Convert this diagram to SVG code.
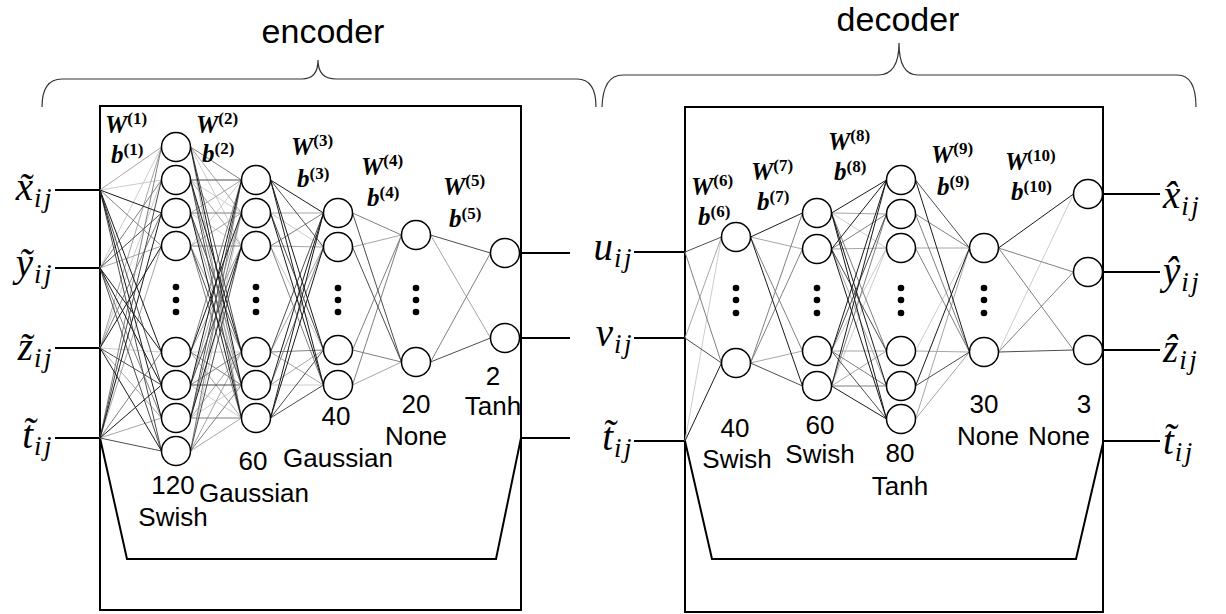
<svg xmlns="http://www.w3.org/2000/svg" width="1226" height="614" viewBox="0 0 1226 614">
<style>
.box{fill:none;stroke:#000;stroke-width:2}
.br{fill:none;stroke:#333;stroke-width:1.2}
.n circle{fill:#fff;stroke:#000;stroke-width:1.5}
.dot{fill:#000}
.io{fill:none;stroke:#000;stroke-width:1.8}
.c1{fill:none;stroke:#1a1a1a;stroke-width:1}
.c2{fill:none;stroke:#4d4d4d;stroke-width:1}
.c3{fill:none;stroke:#808080;stroke-width:1}
.c4{fill:none;stroke:#a6a6a6;stroke-width:1}
.c5{fill:none;stroke:#cccccc;stroke-width:1}
.lab{font-family:"Liberation Sans",Arial,sans-serif;font-size:26px;text-anchor:middle;fill:#000}
.ttl{font-family:"Liberation Sans",Arial,sans-serif;font-size:34px;text-anchor:middle;fill:#000}
.m{font-family:"Liberation Serif","Times New Roman",serif;font-style:italic;font-size:39px;fill:#000}
.m.e{text-anchor:end}
.sub{font-size:27px;letter-spacing:2.5px}
.w{font-family:"Liberation Serif","Times New Roman",serif;font-style:italic;font-weight:bold;font-size:25px;fill:#000}
.sup{font-size:17px;font-style:normal}
</style>

<!-- braces and titles -->
<g id="encoder-brace">
<path class="br" d="M42 107 Q42 79 62 79 L302 79 Q318 79 318 60 Q318 79 336 79 L577 79 Q596 79 596 107"/>
<text class="ttl" x="323" y="43">encoder</text>
</g>
<g id="decoder-brace">
<path class="br" d="M602 107 Q603 75 623 75 L878 75 Q899 75 899 43 Q899 75 918 75 L1177 75 Q1196 75 1196 107"/>
<text class="ttl" x="898" y="31">decoder</text>
</g>

<!-- frames -->
<g id="encoder-frame">
<rect class="box" x="100" y="106" width="421" height="504"/>
<polyline class="box" points="100,438 127,559 496,559 521,438"/>
</g>
<g id="decoder-frame">
<rect class="box" x="685" y="107" width="418" height="505"/>
<polyline class="box" points="685,441 712,559 1076,559 1103,443"/>
</g>

<!-- connectors -->
<g id="connectors">
<path class="io" d="M55 190H100 M55 268H100 M55 348H100 M55 438H100 M520 253H570 M520 338H570 M520 438H570 M634 252H685 M634 338H685 M634 441H685 M1103 194H1160 M1103 272H1160 M1103 350H1160 M1103 441H1160"/>
<!-- inputs to layer 1 -->
<path class="c5" d="M100 190L161.5 180 M100 268L161.5 147 M100 348L161.5 180 M100 348L161.5 352"/>
<path class="c4" d="M100 190L161.5 147 M100 268L161.5 246 M100 348L161.5 147 M100 348L161.5 418 M100 438L161.5 246 M100 438L161.5 418"/>
<path class="c3" d="M100 190L161.5 246 M100 268L161.5 180 M100 268L161.5 418 M100 348L161.5 213 M100 438L161.5 147 M100 438L161.5 352"/>
<path class="c2" d="M100 190L161.5 385 M100 190L161.5 451 M100 268L161.5 213 M100 268L161.5 451 M100 348L161.5 385 M100 438L161.5 180 M100 438L161.5 451"/>
<path class="c1" d="M100 190L161.5 213 M100 190L161.5 352 M100 190L161.5 418 M100 268L161.5 352 M100 268L161.5 385 M100 348L161.5 246 M100 348L161.5 451 M100 438L161.5 213 M100 438L161.5 385"/>
<!-- layer 1 to layer 2 -->
<path class="c5" d="M190.5 147L241.5 246 M190.5 180L241.5 213 M190.5 213L241.5 246 M190.5 246L241.5 180 M190.5 352L241.5 352 M190.5 385L241.5 418 M190.5 418L241.5 385 M190.5 451L241.5 213"/>
<path class="c4" d="M190.5 147L241.5 213 M190.5 147L241.5 418 M190.5 180L241.5 246 M190.5 213L241.5 180 M190.5 213L241.5 385 M190.5 246L241.5 213 M190.5 246L241.5 352 M190.5 352L241.5 246 M190.5 352L241.5 418 M190.5 385L241.5 213 M190.5 418L241.5 352 M190.5 451L241.5 352 M190.5 451L241.5 418"/>
<path class="c3" d="M190.5 147L241.5 180 M190.5 180L241.5 385 M190.5 213L241.5 213 M190.5 246L241.5 246 M190.5 246L241.5 418 M190.5 352L241.5 180 M190.5 352L241.5 385 M190.5 385L241.5 352 M190.5 418L241.5 213 M190.5 418L241.5 418 M190.5 451L241.5 180 M190.5 451L241.5 385"/>
<path class="c2" d="M190.5 147L241.5 352 M190.5 180L241.5 180 M190.5 180L241.5 418 M190.5 213L241.5 352 M190.5 246L241.5 385 M190.5 385L241.5 246 M190.5 385L241.5 385 M190.5 418L241.5 180 M190.5 451L241.5 246"/>
<path class="c1" d="M190.5 147L241.5 385 M190.5 180L241.5 352 M190.5 213L241.5 418 M190.5 352L241.5 213 M190.5 385L241.5 180 M190.5 418L241.5 246"/>
<!-- layer 2 to layer 3 -->
<path class="c5" d="M270.5 213L323.5 247 M270.5 246L323.5 350 M270.5 385L323.5 385"/>
<path class="c4" d="M270.5 213L323.5 213 M270.5 246L323.5 247 M270.5 352L323.5 247 M270.5 352L323.5 385 M270.5 385L323.5 350"/>
<path class="c3" d="M270.5 246L323.5 213 M270.5 246L323.5 385 M270.5 352L323.5 350 M270.5 385L323.5 247"/>
<path class="c2" d="M270.5 180L323.5 247 M270.5 213L323.5 350 M270.5 352L323.5 213 M270.5 418L323.5 350 M270.5 418L323.5 385"/>
<path class="c1" d="M270.5 180L323.5 213 M270.5 180L323.5 350 M270.5 180L323.5 385 M270.5 213L323.5 385 M270.5 385L323.5 213 M270.5 418L323.5 213 M270.5 418L323.5 247"/>
<!-- layer 3 to layer 4 -->
<path class="c4" d="M352.5 247L401.5 235 M352.5 385L401.5 362"/>
<path class="c3" d="M352.5 213L401.5 235 M352.5 350L401.5 235 M352.5 350L401.5 362 M352.5 385L401.5 235"/>
<path class="c2" d="M352.5 213L401.5 362 M352.5 247L401.5 362"/>
<!-- layer 4 to layer 5 -->
<path class="c4" d="M430.5 235L490.5 338"/>
<path class="c3" d="M430.5 362L490.5 253"/>
<path class="c2" d="M430.5 235L490.5 253 M430.5 362L490.5 338"/>
<!-- decoder inputs to layer 6 -->
<path class="c5" d="M685 441L721.5 237"/>
<path class="c4" d="M685 338L721.5 237"/>
<path class="c3" d="M685 252L721.5 363"/>
<path class="c2" d="M685 252L721.5 237 M685 338L721.5 363"/>
<path class="c1" d="M685 441L721.5 363"/>
<!-- layer 6 to layer 7 -->
<path class="c4" d="M750.5 237L802.5 249 M750.5 363L802.5 351"/>
<path class="c3" d="M750.5 237L802.5 351 M750.5 363L802.5 213 M750.5 363L802.5 249"/>
<path class="c2" d="M750.5 363L802.5 386"/>
<path class="c1" d="M750.5 237L802.5 213 M750.5 237L802.5 386"/>
<!-- layer 7 to layer 8 -->
<path class="c5" d="M831.5 213L886.5 248 M831.5 351L886.5 248 M831.5 386L886.5 248"/>
<path class="c4" d="M831.5 213L886.5 214 M831.5 249L886.5 248 M831.5 249L886.5 386 M831.5 351L886.5 351 M831.5 386L886.5 351"/>
<path class="c3" d="M831.5 213L886.5 351 M831.5 249L886.5 214 M831.5 351L886.5 386 M831.5 386L886.5 214 M831.5 386L886.5 386"/>
<path class="c2" d="M831.5 249L886.5 351 M831.5 351L886.5 214 M831.5 351L886.5 419"/>
<path class="c1" d="M831.5 213L886.5 180 M831.5 213L886.5 386 M831.5 213L886.5 419 M831.5 249L886.5 180 M831.5 249L886.5 419 M831.5 351L886.5 180 M831.5 386L886.5 180 M831.5 386L886.5 419"/>
<!-- layer 8 to layer 9 -->
<path class="c5" d="M915.5 351L969.5 248"/>
<path class="c4" d="M915.5 248L969.5 248 M915.5 351L969.5 352 M915.5 419L969.5 248 M915.5 419L969.5 352"/>
<path class="c3" d="M915.5 214L969.5 248 M915.5 214L969.5 352 M915.5 248L969.5 352"/>
<path class="c2" d="M915.5 180L969.5 248 M915.5 386L969.5 352"/>
<path class="c1" d="M915.5 180L969.5 352 M915.5 386L969.5 248"/>
<!-- layer 9 to layer 10 -->
<path class="c5" d="M998.5 352L1073.5 194"/>
<path class="c3" d="M998.5 248L1073.5 272 M998.5 248L1073.5 350 M998.5 352L1073.5 272"/>
<path class="c2" d="M998.5 352L1073.5 350"/>
<path class="c1" d="M998.5 248L1073.5 194"/>
</g>

<!-- encoder layer 1 (120, Swish) -->
<g id="e1n1" class="n"><circle cx="176" cy="147" r="14.5"/></g>
<g id="e1n2" class="n"><circle cx="176" cy="180" r="14.5"/></g>
<g id="e1n3" class="n"><circle cx="176" cy="213" r="14.5"/></g>
<g id="e1n4" class="n"><circle cx="176" cy="246" r="14.5"/></g>
<g id="e1n5" class="n"><circle cx="176" cy="352" r="14.5"/></g>
<g id="e1n6" class="n"><circle cx="176" cy="385" r="14.5"/></g>
<g id="e1n7" class="n"><circle cx="176" cy="418" r="14.5"/></g>
<g id="e1n8" class="n"><circle cx="176" cy="451" r="14.5"/></g>
<!-- encoder layer 2 (60) -->
<g id="e2n1" class="n"><circle cx="256" cy="180" r="14.5"/></g>
<g id="e2n2" class="n"><circle cx="256" cy="213" r="14.5"/></g>
<g id="e2n3" class="n"><circle cx="256" cy="246" r="14.5"/></g>
<g id="e2n4" class="n"><circle cx="256" cy="352" r="14.5"/></g>
<g id="e2n5" class="n"><circle cx="256" cy="385" r="14.5"/></g>
<g id="e2n6" class="n"><circle cx="256" cy="418" r="14.5"/></g>
<!-- encoder layer 3 (40) -->
<g id="e3n1" class="n"><circle cx="338" cy="213" r="14.5"/></g>
<g id="e3n2" class="n"><circle cx="338" cy="247" r="14.5"/></g>
<g id="e3n3" class="n"><circle cx="338" cy="350" r="14.5"/></g>
<g id="e3n4" class="n"><circle cx="338" cy="385" r="14.5"/></g>
<!-- encoder layer 4 (20) -->
<g id="e4n1" class="n"><circle cx="416" cy="235" r="14.5"/></g>
<g id="e4n2" class="n"><circle cx="416" cy="362" r="14.5"/></g>
<!-- encoder layer 5 (2) -->
<g id="e5n1" class="n"><circle cx="505" cy="253" r="14.5"/></g>
<g id="e5n2" class="n"><circle cx="505" cy="338" r="14.5"/></g>
<!-- decoder layer 6 (40) -->
<g id="d6n1" class="n"><circle cx="736" cy="237" r="14.5"/></g>
<g id="d6n2" class="n"><circle cx="736" cy="363" r="14.5"/></g>
<!-- decoder layer 7 (60) -->
<g id="d7n1" class="n"><circle cx="817" cy="213" r="14.5"/></g>
<g id="d7n2" class="n"><circle cx="817" cy="249" r="14.5"/></g>
<g id="d7n3" class="n"><circle cx="817" cy="351" r="14.5"/></g>
<g id="d7n4" class="n"><circle cx="817" cy="386" r="14.5"/></g>
<!-- decoder layer 8 (80) -->
<g id="d8n1" class="n"><circle cx="901" cy="180" r="14.5"/></g>
<g id="d8n2" class="n"><circle cx="901" cy="214" r="14.5"/></g>
<g id="d8n3" class="n"><circle cx="901" cy="248" r="14.5"/></g>
<g id="d8n4" class="n"><circle cx="901" cy="351" r="14.5"/></g>
<g id="d8n5" class="n"><circle cx="901" cy="386" r="14.5"/></g>
<g id="d8n6" class="n"><circle cx="901" cy="419" r="14.5"/></g>
<!-- decoder layer 9 (30) -->
<g id="d9n1" class="n"><circle cx="984" cy="248" r="14.5"/></g>
<g id="d9n2" class="n"><circle cx="984" cy="352" r="14.5"/></g>
<!-- decoder layer 10 (3) -->
<g id="d10n1" class="n"><circle cx="1088" cy="194" r="14.5"/></g>
<g id="d10n2" class="n"><circle cx="1088" cy="272" r="14.5"/></g>
<g id="d10n3" class="n"><circle cx="1088" cy="350" r="14.5"/></g>

<!-- ellipsis dots -->
<g id="ellipses">
<circle class="dot" cx="176" cy="287" r="3.3"/><circle class="dot" cx="176" cy="300" r="3.3"/><circle class="dot" cx="176" cy="312" r="3.3"/>
<circle class="dot" cx="256" cy="287" r="3.3"/><circle class="dot" cx="256" cy="300" r="3.3"/><circle class="dot" cx="256" cy="312" r="3.3"/>
<circle class="dot" cx="338" cy="288" r="3.3"/><circle class="dot" cx="338" cy="300" r="3.3"/><circle class="dot" cx="338" cy="312" r="3.3"/>
<circle class="dot" cx="416" cy="288" r="3.3"/><circle class="dot" cx="416" cy="300" r="3.3"/><circle class="dot" cx="416" cy="312" r="3.3"/>
<circle class="dot" cx="736" cy="288" r="3.3"/><circle class="dot" cx="736" cy="300" r="3.3"/><circle class="dot" cx="736" cy="313" r="3.3"/>
<circle class="dot" cx="817" cy="288" r="3.3"/><circle class="dot" cx="817" cy="300" r="3.3"/><circle class="dot" cx="817" cy="313" r="3.3"/>
<circle class="dot" cx="901" cy="288" r="3.3"/><circle class="dot" cx="901" cy="300" r="3.3"/><circle class="dot" cx="901" cy="313" r="3.3"/>
<circle class="dot" cx="984" cy="288" r="3.3"/><circle class="dot" cx="984" cy="300" r="3.3"/><circle class="dot" cx="984" cy="313" r="3.3"/>
</g>

<!-- layer labels -->
<g id="layer-labels">
<text class="lab" x="173" y="494">120</text><text class="lab" x="173" y="526">Swish</text>
<text class="lab" x="253" y="470">60</text><text class="lab" x="254" y="502">Gaussian</text>
<text class="lab" x="336" y="425">40</text><text class="lab" x="338" y="467">Gaussian</text>
<text class="lab" x="416" y="413">20</text><text class="lab" x="416" y="445">None</text>
<text class="lab" x="493" y="385">2</text><text class="lab" x="493" y="415">Tanh</text>
<text class="lab" x="735" y="437">40</text><text class="lab" x="737" y="468">Swish</text>
<text class="lab" x="820" y="434">60</text><text class="lab" x="820" y="463">Swish</text>
<text class="lab" x="900" y="462">80</text><text class="lab" x="900" y="495">Tanh</text>
<text class="lab" x="984" y="413">30</text><text class="lab" x="988" y="445">None</text>
<text class="lab" x="1084" y="413">3</text><text class="lab" x="1059" y="445">None</text>
</g>

<!-- weight labels -->
<g id="weights">
<text class="w" x="105" y="133">W<tspan class="sup" dy="-9">(1)</tspan></text><text class="w" x="111" y="163">b<tspan class="sup" dy="-8">(1)</tspan></text>
<text class="w" x="196" y="133">W<tspan class="sup" dy="-9">(2)</tspan></text><text class="w" x="202" y="162">b<tspan class="sup" dy="-8">(2)</tspan></text>
<text class="w" x="291" y="155">W<tspan class="sup" dy="-9">(3)</tspan></text><text class="w" x="297" y="187">b<tspan class="sup" dy="-8">(3)</tspan></text>
<text class="w" x="361" y="175">W<tspan class="sup" dy="-9">(4)</tspan></text><text class="w" x="367" y="206">b<tspan class="sup" dy="-8">(4)</tspan></text>
<text class="w" x="443" y="195">W<tspan class="sup" dy="-9">(5)</tspan></text><text class="w" x="449" y="227">b<tspan class="sup" dy="-8">(5)</tspan></text>
<text class="w" x="691" y="195">W<tspan class="sup" dy="-9">(6)</tspan></text><text class="w" x="698" y="225">b<tspan class="sup" dy="-8">(6)</tspan></text>
<text class="w" x="751" y="180">W<tspan class="sup" dy="-9">(7)</tspan></text><text class="w" x="757" y="210">b<tspan class="sup" dy="-8">(7)</tspan></text>
<text class="w" x="828" y="150">W<tspan class="sup" dy="-9">(8)</tspan></text><text class="w" x="834" y="180">b<tspan class="sup" dy="-8">(8)</tspan></text>
<text class="w" x="931" y="163">W<tspan class="sup" dy="-9">(9)</tspan></text><text class="w" x="937" y="195">b<tspan class="sup" dy="-8">(9)</tspan></text>
<text class="w" x="1005" y="170">W<tspan class="sup" dy="-9">(10)</tspan></text><text class="w" x="1011" y="200">b<tspan class="sup" dy="-8">(10)</tspan></text>
</g>

<!-- input / latent / output labels -->
<g id="in-x"><text class="m e" x="54" y="200">x&#x303;<tspan class="sub" dx="1" dy="7">ij</tspan></text></g>
<g id="in-y"><text class="m e" x="54" y="276">&#x1EF9;<tspan class="sub" dx="1" dy="7">ij</tspan></text></g>
<g id="in-z"><text class="m e" x="54" y="360">z&#x303;<tspan class="sub" dx="1" dy="7">ij</tspan></text></g>
<g id="in-t"><text class="m e" x="54" y="448">t&#x303;<tspan class="sub" dx="1" dy="7">ij</tspan></text></g>
<g id="lat-u"><text class="m e" x="634" y="260">u<tspan class="sub" dx="1" dy="7">ij</tspan></text></g>
<g id="lat-v"><text class="m e" x="634" y="346">v<tspan class="sub" dx="1" dy="7">ij</tspan></text></g>
<g id="lat-t"><text class="m e" x="634" y="450">t&#x303;<tspan class="sub" dx="1" dy="7">ij</tspan></text></g>
<g id="out-x"><text class="m" x="1163" y="208">x&#x302;<tspan class="sub" dx="1" dy="7">ij</tspan></text></g>
<g id="out-y"><text class="m" x="1163" y="284">&#x177;<tspan class="sub" dx="1" dy="7">ij</tspan></text></g>
<g id="out-z"><text class="m" x="1163" y="362">&#x1E91;<tspan class="sub" dx="1" dy="7">ij</tspan></text></g>
<g id="out-t"><text class="m" x="1163" y="454">t&#x303;<tspan class="sub" dx="1" dy="7">ij</tspan></text></g>
</svg>
